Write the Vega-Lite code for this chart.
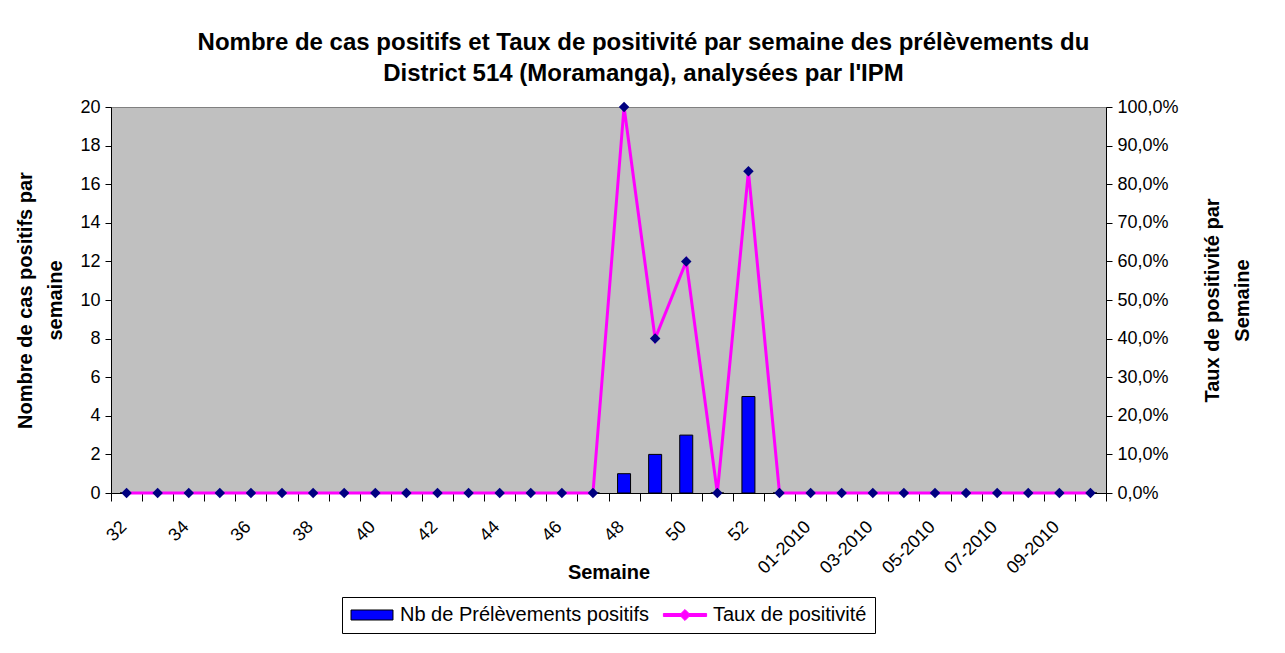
{
  "$schema": "https://vega.github.io/schema/vega-lite/v6.json",
  "width": 995,
  "height": 386,
  "padding": {"left": 15, "top": 31, "right": 5, "bottom": 5},
  "background": "white",
  "title": {
    "text": ["Nombre de cas positifs et Taux de positivité par semaine des prélèvements du", "District 514 (Moramanga), analysées par l'IPM"],
    "font": "Liberation Sans",
    "fontSize": 24,
    "fontWeight": "bold",
    "color": "black",
    "lineHeight": 31,
    "anchor": "middle",
    "dx": 35,
    "offset": 12
  },
  "data": {
    "values": [
      {"semaine": "32", "nb": 0, "taux": 0},
      {"semaine": "33", "nb": 0, "taux": 0},
      {"semaine": "34", "nb": 0, "taux": 0},
      {"semaine": "35", "nb": 0, "taux": 0},
      {"semaine": "36", "nb": 0, "taux": 0},
      {"semaine": "37", "nb": 0, "taux": 0},
      {"semaine": "38", "nb": 0, "taux": 0},
      {"semaine": "39", "nb": 0, "taux": 0},
      {"semaine": "40", "nb": 0, "taux": 0},
      {"semaine": "41", "nb": 0, "taux": 0},
      {"semaine": "42", "nb": 0, "taux": 0},
      {"semaine": "43", "nb": 0, "taux": 0},
      {"semaine": "44", "nb": 0, "taux": 0},
      {"semaine": "45", "nb": 0, "taux": 0},
      {"semaine": "46", "nb": 0, "taux": 0},
      {"semaine": "47", "nb": 0, "taux": 0},
      {"semaine": "48", "nb": 1, "taux": 1},
      {"semaine": "49", "nb": 2, "taux": 0.4},
      {"semaine": "50", "nb": 3, "taux": 0.6},
      {"semaine": "51", "nb": 0, "taux": 0},
      {"semaine": "52", "nb": 5, "taux": 0.8333},
      {"semaine": "53", "nb": 0, "taux": 0},
      {"semaine": "01-2010", "nb": 0, "taux": 0},
      {"semaine": "02-2010", "nb": 0, "taux": 0},
      {"semaine": "03-2010", "nb": 0, "taux": 0},
      {"semaine": "04-2010", "nb": 0, "taux": 0},
      {"semaine": "05-2010", "nb": 0, "taux": 0},
      {"semaine": "06-2010", "nb": 0, "taux": 0},
      {"semaine": "07-2010", "nb": 0, "taux": 0},
      {"semaine": "08-2010", "nb": 0, "taux": 0},
      {"semaine": "09-2010", "nb": 0, "taux": 0},
      {"semaine": "10-2010", "nb": 0, "taux": 0}
    ]
  },
  "encoding": {
    "x": {
      "field": "semaine",
      "type": "ordinal",
      "sort": null,
      "scale": {"paddingInner": 0, "paddingOuter": 0},
      "axis": {
        "title": "Semaine",
        "titleFontSize": 20,
        "titleFontWeight": "bold",
        "titleColor": "black",
        "titleY": 79,
        "titleBaseline": "middle",
        "labelAngle": -45,
        "labelAlign": "right",
        "labelBaseline": "middle",
        "labelFontSize": 18,
        "labelColor": "black",
        "labelPadding": 23,
        "labelOffset": -3,
        "labelOverlap": false,
        "labelExpr": "indexof(['32','34','36','38','40','42','44','46','48','50','52','01-2010','03-2010','05-2010','07-2010','09-2010'], datum.value) >= 0 ? datum.value : ''",
        "tickBand": "extent",
        "tickSize": 8,
        "tickColor": "black",
        "domainColor": "black",
        "grid": false
      }
    }
  },
  "layer": [
    {
      "mark": {"type": "bar", "fill": "#0000FF", "stroke": "black", "strokeWidth": 1, "width": 13},
      "encoding": {
        "y": {
          "field": "nb",
          "type": "quantitative",
          "scale": {"domain": [0, 20], "nice": false},
          "axis": {
            "title": ["Nombre de cas positifs par", "semaine"],
            "titleFontSize": 20,
            "titleFontWeight": "bold",
            "titleColor": "black",
            "titleLineHeight": 30,
            "titlePadding": 14,
            "values": [0, 2, 4, 6, 8, 10, 12, 14, 16, 18, 20],
            "labelFontSize": 18,
            "labelColor": "black",
            "labelPadding": 5,
            "tickSize": 6,
            "tickColor": "black",
            "domainColor": "black",
            "grid": false
          }
        }
      }
    },
    {
      "mark": {
        "type": "line",
        "color": "#FF00FF",
        "strokeWidth": 3,
        "point": {"shape": "diamond", "filled": true, "fill": "#000080", "color": "#000080", "size": 110, "opacity": 1}
      },
      "encoding": {
        "y": {
          "field": "taux",
          "type": "quantitative",
          "scale": {"domain": [0, 1], "nice": false},
          "axis": {
            "orient": "right",
            "title": ["Taux de positivité par", "Semaine"],
            "titleFontSize": 20,
            "titleFontWeight": "bold",
            "titleColor": "black",
            "titleLineHeight": 30,
            "titleAngle": -90,
            "titleBaseline": "top",
            "titlePadding": -6,
            "values": [0, 0.1, 0.2, 0.3, 0.4, 0.5, 0.6, 0.7, 0.8, 0.9, 1],
            "labelExpr": "replace(format(datum.value, '.1%'), '.', ',')",
            "labelFontSize": 18,
            "labelColor": "black",
            "labelPadding": 5,
            "tickSize": 6,
            "tickColor": "black",
            "domainColor": "black",
            "grid": false
          }
        }
      }
    },
    {
      "transform": [{"filter": "false"}],
      "mark": {"type": "point", "filled": true, "opacity": 1, "strokeWidth": 1},
      "encoding": {
        "color": {
          "field": "serie",
          "type": "nominal",
          "scale": {"domain": ["Nb de Prélèvements positifs", "Taux de positivité"], "range": ["#0000FF", "#FF00FF"]},
          "legend": {
            "orient": "bottom",
            "direction": "horizontal",
            "title": null,
            "symbolSize": 324,
            "symbolOffset": 12,
            "labelOffset": 18,
            "labelFontSize": 20,
            "labelLimit": 500,
            "labelColor": "black",
            "labelFont": "Liberation Sans",
            "strokeColor": "black",
            "fillColor": "white",
            "padding": 8,
            "columnPadding": 11,
            "offset": 15,
            "symbolStrokeWidth": 1,
            "symbolOpacity": 1
          }
        },
        "shape": {
          "field": "serie",
          "type": "nominal",
          "scale": {
            "domain": ["Nb de Prélèvements positifs", "Taux de positivité"],
            "range": [
              "M-2.333,-0.556H2.333V0.556H-2.333Z",
              "M-2.4,-0.167H-0.444L0,-0.61L0.444,-0.167H2.4V0.167H0.444L0,0.61L-0.444,0.167H-2.4Z"
            ]
          }
        },
        "stroke": {
          "field": "serie",
          "type": "nominal",
          "scale": {"domain": ["Nb de Prélèvements positifs", "Taux de positivité"], "range": ["#000000", "#FF00FF"]}
        }
      }
    }
  ],
  "resolve": {"scale": {"y": "independent"}},
  "config": {
    "font": "Liberation Sans",
    "view": {"fill": "#C0C0C0", "stroke": "#808080", "strokeWidth": 1},
    "legend": {"layout": {"bottom": {"anchor": "middle"}}}
  }
}
